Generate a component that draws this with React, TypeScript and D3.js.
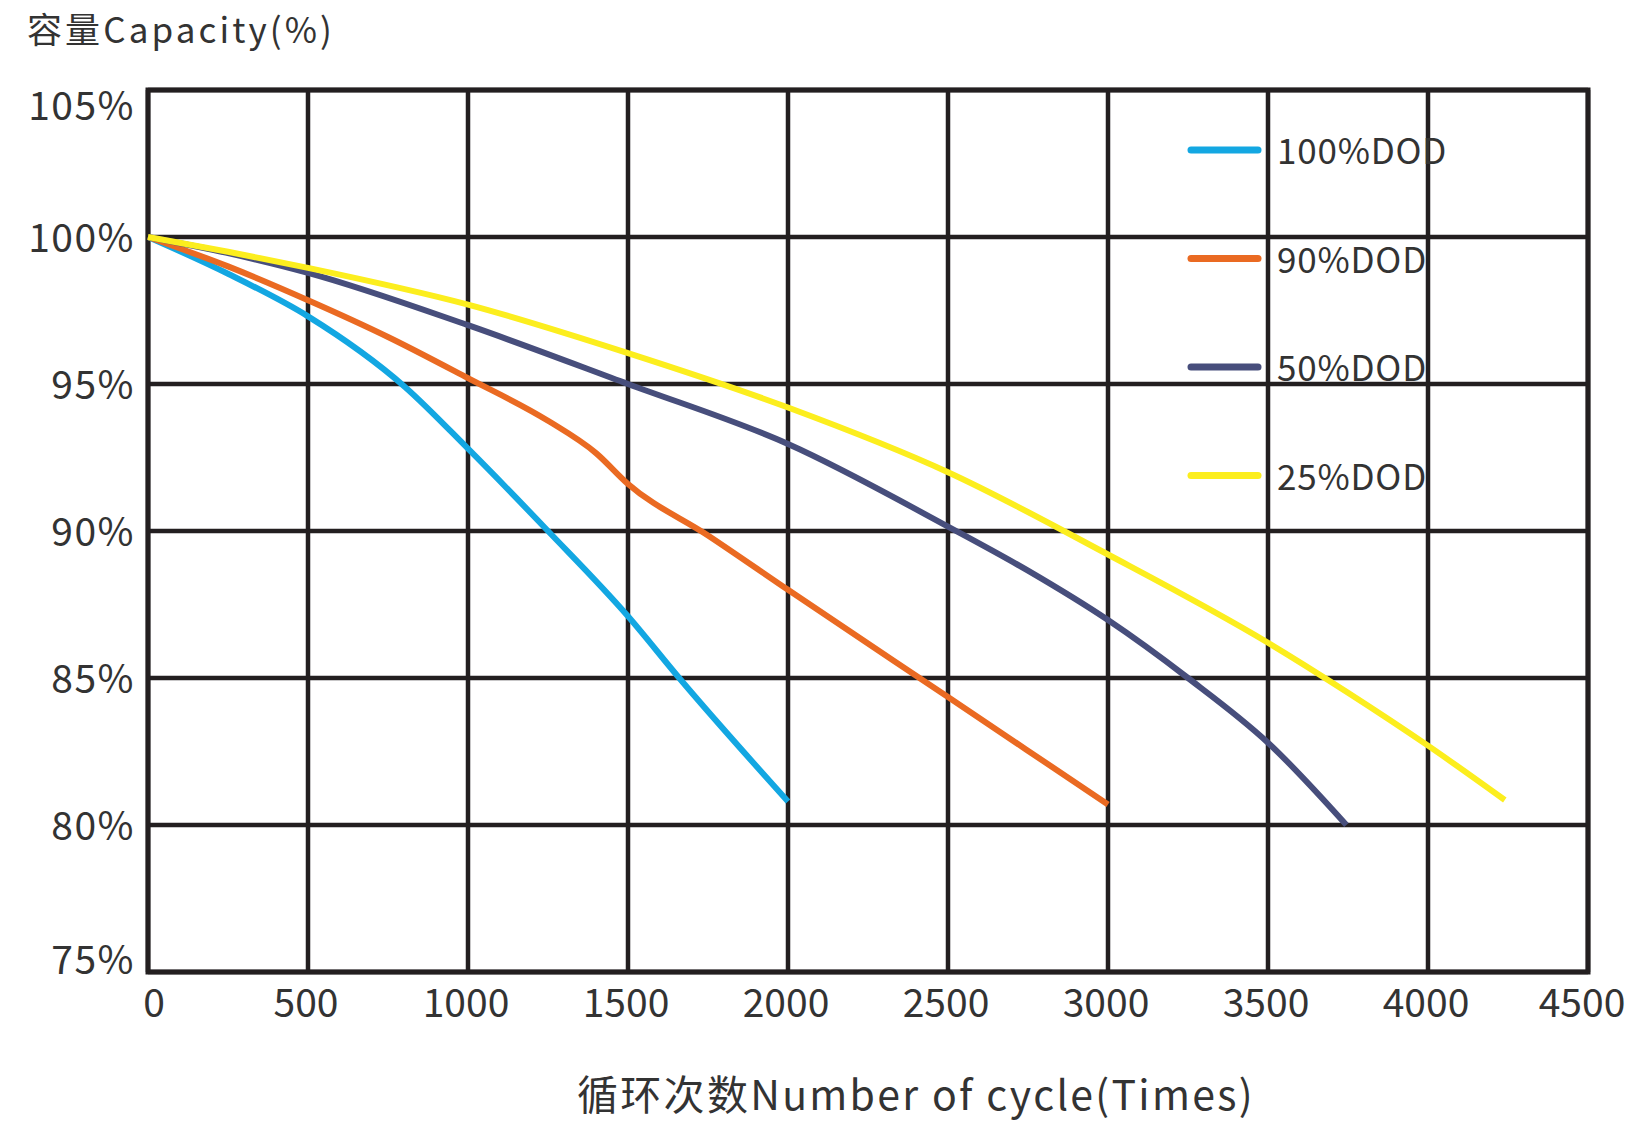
import React from "react";
import * as d3 from "d3";

const xTicks = [0, 500, 1000, 1500, 2000, 2500, 3000, 3500, 4000, 4500];
const yTicks = [75, 80, 85, 90, 95, 100, 105];

const cycles100 = [0, 250, 500, 803, 1000, 1250, 1500, 1660, 2000];
const cap100 = [100, 98.75, 97.3, 94.9, 92.8, 90.0, 87.1, 85.0, 80.8];

const cycles90 = [0, 250, 500, 750, 1000, 1250, 1400, 1500, 1750, 2000, 2500, 3000];
const cap90 = [100, 99.0, 97.85, 96.6, 95.2, 93.75, 92.65, 91.6, 89.85, 88.0, 84.35, 80.7];

const cycles50 = [0, 250, 500, 1000, 1500, 2000, 2500, 2750, 3000, 3250, 3500, 3745];
const cap50 = [100, 99.45, 98.78, 97.0, 95.0, 92.96, 90.15, 88.65, 86.97, 85.0, 82.8, 80.0];

const cycles25 = [0, 250, 500, 1000, 1500, 2000, 2500, 3000, 3500, 3750, 4000, 4240];
const cap25 = [100, 99.5, 98.95, 97.7, 96.05, 94.2, 92.0, 89.2, 86.2, 84.5, 82.7, 80.85];

const seriesNames = ["100%DOD", "90%DOD", "50%DOD", "25%DOD"];
const seriesColors = ["#13a7e2", "#ea6a22", "#474e7c", "#fcee1e"];

const W = 1647;
const H = 1139;
const M = { left: 148, right: 1588, top: 90, bottom: 972 };
const FONT = "'Noto Sans CJK SC', 'Noto Sans', sans-serif";
const INK = "#231f20";
const TEXT = "#333";

export default function App() {
  const x = d3.scaleLinear().domain([0, 4500]).range([M.left, M.right]);
  const y = d3.scaleLinear().domain([75, 105]).range([M.bottom, M.top]);

  const series = [
    { xs: cycles100, ys: cap100 },
    { xs: cycles90, ys: cap90 },
    { xs: cycles50, ys: cap50 },
    { xs: cycles25, ys: cap25 },
  ];

  const line = d3
    .line<[number, number]>()
    .x((d) => x(d[0]))
    .y((d) => y(d[1]))
    .curve(d3.curveMonotoneX);

  const yLabelDy = (i: number) =>
    i === yTicks.length - 1 ? 30 : i === 0 ? 2 : 15;

  return (
    <svg
      width={W}
      height={H}
      style={{ position: "absolute", left: 0, top: 0, background: "#fff" }}
      fontFamily={FONT}
    >
      <rect x={0} y={0} width={W} height={H} fill="#fff" />
      {/* title */}
      <text x={27} y={43} fontSize={35} fill={TEXT} letterSpacing={3.1}>
        容量Capacity(%)
      </text>

      {/* grid */}
      <g stroke={INK} strokeWidth={4.5}>
        {xTicks.map((t) => (
          <line key={"gx" + t} x1={x(t)} x2={x(t)} y1={M.top} y2={M.bottom} />
        ))}
        {yTicks.map((t) => (
          <line key={"gy" + t} x1={M.left} x2={M.right} y1={y(t)} y2={y(t)} />
        ))}
        <rect
          x={M.left}
          y={M.top}
          width={M.right - M.left}
          height={M.bottom - M.top}
          fill="none"
          strokeWidth={5}
        />
      </g>

      {/* y labels */}
      {yTicks.map((t, i) => (
        <text
          key={"yl" + t}
          x={135}
          y={y(t) + yLabelDy(i)}
          textAnchor="end"
          fontSize={39}
          fill={TEXT}
          letterSpacing={1.5}
        >
          {t}%
        </text>
      ))}

      {/* x labels */}
      {xTicks.map((t, i) => (
        <text
          key={"xl" + t}
          x={x(t) + (i === 0 ? 6 : i === xTicks.length - 1 ? -6 : -2)}
          y={1017}
          textAnchor="middle"
          fontSize={39}
          fill={TEXT}
        >
          {t}
        </text>
      ))}

      {/* x title */}
      <text x={577} y={1110} fontSize={41} fill={TEXT} letterSpacing={2.3}>
        循环次数Number of cycle(Times)
      </text>

      {/* curves */}
      {series.map((s, i) => (
        <path
          key={"s" + i}
          d={line(s.xs.map((c, j) => [c, s.ys[j]] as [number, number])) || ""}
          fill="none"
          stroke={seriesColors[i]}
          strokeWidth={6}
          strokeLinejoin="round"
        />
      ))}

      {/* legend */}
      {seriesNames.map((n, i) => {
        const ly = 150 + i * 108.5;
        return (
          <g key={"lg" + n}>
            <line
              x1={1191}
              x2={1258}
              y1={ly}
              y2={ly}
              stroke={seriesColors[i]}
              strokeWidth={7}
              strokeLinecap="round"
            />
            <text x={1277} y={ly + 14} fontSize={35} fill={TEXT} letterSpacing={0.8}>
              {n}
            </text>
          </g>
        );
      })}
    </svg>
  );
}
